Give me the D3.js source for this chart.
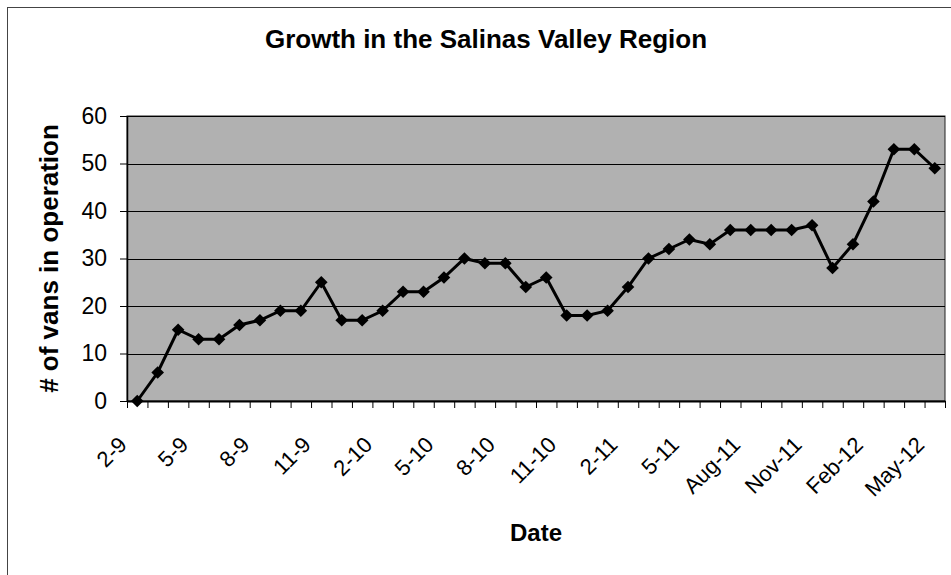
<html lang="en">
<head>
  <meta charset="UTF-8">
  <title>Growth in the Salinas Valley Region</title>
  <script src="https://d3js.org/d3.v7.min.js"></script>
  <style>
    body { margin: 0; background: #ffffff; }
    svg { font-family: "Liberation Sans", Arial, sans-serif; }
    .axis path, .axis line { stroke: #000000; }
  </style>
</head>
<body>
  <svg id="chart"></svg>
  <script>
    const width = 951;
    const height = 575;
    const margin = { top: 116, right: 6, bottom: 174, left: 127 };

    // monthly categories, Feb 2009 .. May 2012
    const months = [
      "Feb-09", "Mar-09", "Apr-09", "May-09", "Jun-09", "Jul-09", "Aug-09", "Sep-09", "Oct-09", "Nov-09", "Dec-09",
      "Jan-10", "Feb-10", "Mar-10", "Apr-10", "May-10", "Jun-10", "Jul-10", "Aug-10", "Sep-10", "Oct-10", "Nov-10", "Dec-10",
      "Jan-11", "Feb-11", "Mar-11", "Apr-11", "May-11", "Jun-11", "Jul-11", "Aug-11", "Sep-11", "Oct-11", "Nov-11", "Dec-11",
      "Jan-12", "Feb-12", "Mar-12", "Apr-12", "May-12"
    ];
    const vans = [
      0, 6, 15, 13, 13, 16, 17, 19, 19, 25, 17,
      17, 19, 23, 23, 26, 30, 29, 29, 24, 26, 18, 18,
      19, 24, 30, 32, 34, 33, 36, 36, 36, 36, 37, 28,
      33, 42, 53, 53, 49
    ];
    // shown on every third month
    const tickLabels = ["2-9", "5-9", "8-9", "11-9", "2-10", "5-10", "8-10", "11-10",
      "2-11", "5-11", "Aug-11", "Nov-11", "Feb-12", "May-12"];
    const yTicks = [0, 10, 20, 30, 40, 50, 60];

    const svg = d3.select("#chart").attr("width", width).attr("height", height);

    // chart frame
    svg.append("rect")
      .attr("x", 7.5).attr("y", 7.5)
      .attr("width", width + 10).attr("height", height + 10)
      .attr("fill", "none").attr("stroke", "#444").attr("stroke-width", 1);

    const x = d3.scaleBand()
      .domain(months)
      .range([margin.left, width - margin.right])
      .padding(0);
    const xIdx = d3.scaleLinear()
      .domain([0, months.length])
      .range([margin.left, width - margin.right]);
    const y = d3.scaleLinear()
      .domain([0, 60])
      .range([height - margin.bottom, margin.top]);

    const plotW = width - margin.right - margin.left;
    const plotH = height - margin.bottom - margin.top;

    svg.append("rect")
      .attr("x", margin.left).attr("y", margin.top)
      .attr("width", plotW).attr("height", plotH)
      .attr("fill", "#b1b1b1")
      .attr("stroke", "#222").attr("stroke-width", 1);

    // gridlines
    svg.append("g")
      .selectAll("line")
      .data(yTicks.slice(1))
      .enter()
      .append("line")
      .attr("x1", margin.left).attr("x2", width - margin.right)
      .attr("y1", d => Math.round(y(d)) + 0.5).attr("y2", d => Math.round(y(d)) + 0.5)
      .attr("stroke", "#000").attr("stroke-width", 1);

    // y axis
    const yAxis = svg.append("g")
      .attr("class", "axis")
      .attr("transform", `translate(${margin.left},0)`)
      .call(d3.axisLeft(y).tickValues(yTicks).tickSize(7).tickSizeOuter(0).tickPadding(13));
    yAxis.selectAll("text").attr("font-size", 23).attr("fill", "#000");
    yAxis.select(".domain").attr("stroke-width", 1.5);

    // x axis: ticks at category boundaries
    const xAxis = svg.append("g")
      .attr("class", "axis")
      .attr("transform", `translate(0,${height - margin.bottom})`)
      .call(d3.axisBottom(xIdx).tickValues(d3.range(months.length + 1)).tickFormat("").tickSize(7).tickSizeOuter(0));
    xAxis.select(".domain").attr("stroke-width", 2);

    svg.append("g")
      .selectAll("text")
      .data(tickLabels)
      .enter()
      .append("text")
      .attr("transform", (d, i) => {
        const c = months[i * 3];
        return `translate(${x(c) + x.bandwidth() / 2 - 9},${height - margin.bottom + 45}) rotate(-45)`;
      })
      .attr("text-anchor", "end")
      .attr("font-size", 22)
      .attr("fill", "#000")
      .text(d => d);

    // line + markers
    const line = d3.line()
      .x((d, i) => x(months[i]) + x.bandwidth() / 2)
      .y(d => y(d));

    svg.append("path")
      .datum(vans)
      .attr("d", line)
      .attr("fill", "none")
      .attr("stroke", "#000")
      .attr("stroke-width", 3);

    svg.append("g")
      .selectAll("path")
      .data(vans)
      .enter()
      .append("path")
      .attr("d", d3.symbol(d3.symbolSquare, 80))
      .attr("transform", (d, i) => `translate(${x(months[i]) + x.bandwidth() / 2},${y(d)}) rotate(45)`)
      .attr("fill", "#000");

    // titles
    svg.append("text")
      .attr("x", 486).attr("y", 48)
      .attr("text-anchor", "middle")
      .attr("font-size", 26).attr("font-weight", "bold")
      .text("Growth in the Salinas Valley Region");

    svg.append("text")
      .attr("x", (margin.left + width - margin.right) / 2).attr("y", 541)
      .attr("text-anchor", "middle")
      .attr("font-size", 24).attr("font-weight", "bold")
      .text("Date");

    svg.append("text")
      .attr("transform", `translate(58,${(margin.top + height - margin.bottom) / 2}) rotate(-90)`)
      .attr("text-anchor", "middle")
      .attr("font-size", 26).attr("font-weight", "bold")
      .text("# of vans in operation");
  </script>
</body>
</html>
